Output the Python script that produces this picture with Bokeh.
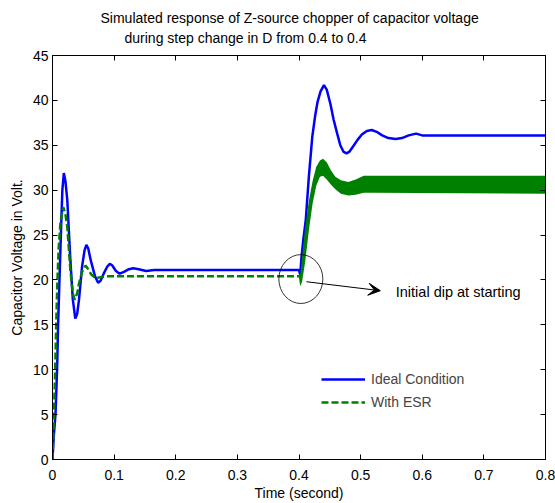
from bokeh.plotting import figure
from bokeh.models import (Title, LinearAxis, Range1d, FixedTicker, Arrow, VeeHead,
                          Label, Legend, LegendItem)
from bokeh.embed import file_html
from bokeh.resources import INLINE

FONT = "Liberation Sans"
FS = "14px"

# ---------------- data ----------------
t_ideal = [0, 0.002, 0.005, 0.0076, 0.009, 0.011, 0.014, 0.016, 0.0184, 0.021, 0.024,
           0.029, 0.033, 0.037, 0.040, 0.043, 0.048, 0.052, 0.055, 0.058, 0.062, 0.069,
           0.074, 0.078, 0.083, 0.089, 0.093, 0.097, 0.103, 0.109, 0.116, 0.124, 0.131,
           0.140, 0.152, 0.165, 0.400, 0.402, 0.404, 0.407, 0.411, 0.416, 0.4215, 0.426,
           0.430, 0.435, 0.4405, 0.445, 0.451, 0.456, 0.462, 0.467, 0.472, 0.477, 0.482,
           0.488, 0.495, 0.502, 0.510, 0.518, 0.526, 0.535, 0.545, 0.557, 0.567, 0.578,
           0.590, 0.600, 0.800]
v_ideal = [0, 2.5, 5.2, 10.4, 14.8, 19.3, 25.9, 30.0, 31.9, 31.0, 28.9,
           22.2, 17.8, 15.7, 16.2, 17.8, 21.5, 23.3, 23.9, 23.5, 22.2, 20.4,
           19.7, 19.9, 20.7, 21.5, 21.8, 21.6, 21.0, 20.7, 20.9, 21.2, 21.3,
           21.2, 21.0, 21.1, 21.1, 20.6, 22.5, 24.5, 26.7, 31.5, 35.9, 38.2,
           39.8, 41.0, 41.7, 41.2, 39.6, 37.9, 36.3, 35.0, 34.3, 34.1, 34.3,
           34.9, 35.6, 36.2, 36.6, 36.7, 36.5, 36.1, 35.8, 35.7, 35.8, 36.1,
           36.3, 36.1, 36.1]

t_esr = [0, 0.002, 0.004, 0.006, 0.008, 0.010, 0.013, 0.0175, 0.021, 0.024, 0.029,
         0.033, 0.036, 0.040, 0.043, 0.048, 0.0536, 0.058, 0.063, 0.070, 0.078, 0.090,
         0.400]
v_esr = [0, 4, 9, 15, 20, 23.5, 26.5, 28.1, 27.3, 25.9, 21.1,
         18.5, 17.8, 18.5, 19.6, 20.9, 21.6, 21.2, 20.6, 20.2, 20.3, 20.4,
         20.4]

# ripple band of the ESR response after the step (lower / upper envelope)
t_band = [0.400, 0.402, 0.405, 0.410, 0.416, 0.422, 0.428, 0.434, 0.439, 0.445, 0.452,
          0.459, 0.468, 0.480, 0.492, 0.505, 0.520, 0.800]
v_band_low = [20.2, 19.3, 19.8, 22.0, 25.5, 28.5, 30.5, 31.5, 31.6, 31.2, 30.6,
              30.1, 29.6, 29.4, 29.5, 29.7, 29.7, 29.6]
v_band_high = [20.6, 20.6, 22.5, 25.8, 28.8, 31.0, 32.6, 33.3, 33.5, 33.1, 32.2,
               31.5, 31.1, 30.9, 31.2, 31.6, 31.6, 31.6]

x_ticks = [0, 0.1, 0.2, 0.3, 0.4, 0.5, 0.6, 0.7, 0.8]
x_tick_labels = ["0", "0.1", "0.2", "0.3", "0.4", "0.5", "0.6", "0.7", "0.8"]
y_ticks = [0, 5, 10, 15, 20, 25, 30, 35, 40, 45]

title_line1 = "Simulated response of Z-source chopper of capacitor voltage"
title_line2 = "during step change in D from 0.4 to 0.4"
x_label = "Time (second)"
y_label = "Capacitor Voltage in Volt."
note_text = "Initial dip at starting"

# annotation geometry (data units)
circle_xy = (0.403, 20.1)
circle_size = (0.0714, 5.45)
arrow_from = (0.412, 19.8)
arrow_to = (0.532, 18.8)
note_xy = (0.557, 18.7)

# ---------------- figure ----------------
p = figure(width=555, height=503, output_backend="svg", toolbar_location=None,
           x_range=Range1d(0, 0.8), y_range=Range1d(0, 45),
           min_border_left=52, min_border_right=10, min_border_top=55,
           min_border_bottom=43, background_fill_color="white",
           border_fill_color="white")
p.grid.visible = False
p.outline_line_color = "black"
p.outline_line_width = 1


def style_axis(ax, ticks, show_labels=True):
    ax.ticker = FixedTicker(ticks=ticks)
    ax.major_tick_in = 5
    ax.major_tick_out = 0
    ax.minor_tick_in = 0
    ax.minor_tick_out = 0
    ax.axis_line_color = "black"
    ax.major_tick_line_color = "black"
    ax.major_label_text_font = FONT
    ax.major_label_text_font_size = FS
    if show_labels:
        ax.major_label_text_color = "black"
    else:
        ax.major_label_text_color = None
        ax.major_label_standoff = 0


style_axis(p.xaxis[0], x_ticks)
style_axis(p.yaxis[0], y_ticks)
p.xaxis[0].major_label_overrides = {k: v for k, v in zip(x_ticks, x_tick_labels)}
p.yaxis[0].major_label_overrides = {k: str(k) for k in y_ticks}
p.xaxis[0].major_label_standoff = 10
p.yaxis[0].major_label_standoff = 4
p.xaxis[0].axis_label = x_label
p.yaxis[0].axis_label = y_label
for ax in (p.xaxis[0], p.yaxis[0]):
    ax.axis_label_text_font = FONT
    ax.axis_label_text_font_size = FS
    ax.axis_label_text_font_style = "normal"
    ax.axis_label_text_color = "black"
p.xaxis[0].axis_label_standoff = 2
p.yaxis[0].axis_label_standoff = 5

top_ax = LinearAxis()
style_axis(top_ax, x_ticks, show_labels=False)
right_ax = LinearAxis()
style_axis(right_ax, y_ticks, show_labels=False)
p.add_layout(top_ax, "above")
p.add_layout(right_ax, "right")

# invisible spacer between the frame and the title lines
spacer = LinearAxis(ticker=FixedTicker(ticks=x_ticks), major_tick_out=9, major_tick_in=0,
                    minor_tick_in=0, minor_tick_out=0, major_tick_line_color=None,
                    minor_tick_line_color=None, axis_line_color=None,
                    major_label_text_color=None, major_label_standoff=0)
p.add_layout(spacer, "above")

p.add_layout(Title(text=title_line2, align="left", offset=72, text_font=FONT,
                   text_font_size=FS, text_font_style="normal",
                   text_color="black", standoff=2), "above")
p.add_layout(Title(text=title_line1, align="left", offset=48, text_font=FONT,
                   text_font_size=FS, text_font_style="normal",
                   text_color="black", standoff=2), "above")

# ---------------- series ----------------
blue = p.line(t_ideal, v_ideal, line_color="#0000ff", line_width=2.5)
green = p.line(t_esr, v_esr, line_color="#008000", line_width=2.5, line_dash="7 3")
p.varea(x=t_band, y1=v_band_low, y2=v_band_high, fill_color="#008000")

# ---------------- annotation ----------------
p.ellipse(x=[circle_xy[0]], y=[circle_xy[1]], width=circle_size[0],
          height=circle_size[1], fill_color=None, line_color="black", line_width=0.8)
p.add_layout(Arrow(end=VeeHead(size=12, fill_color="black", line_color="black"),
                   x_start=arrow_from[0], y_start=arrow_from[1],
                   x_end=arrow_to[0], y_end=arrow_to[1],
                   line_color="black", line_width=1))
p.add_layout(Label(x=note_xy[0], y=note_xy[1], text=note_text, text_font=FONT,
                   text_font_size="14.5px", text_baseline="middle", text_color="black"))

legend = Legend(items=[LegendItem(label="Ideal Condition", renderers=[blue]),
                       LegendItem(label="With ESR", renderers=[green])],
                location=(269, 47), border_line_color=None, background_fill_alpha=0,
                glyph_width=44, glyph_height=20, label_height=20, spacing=3, padding=10,
                label_text_font=FONT, label_text_font_size=FS, label_standoff=6)
p.add_layout(legend)

open("out.html", "w").write(file_html(p, INLINE))
